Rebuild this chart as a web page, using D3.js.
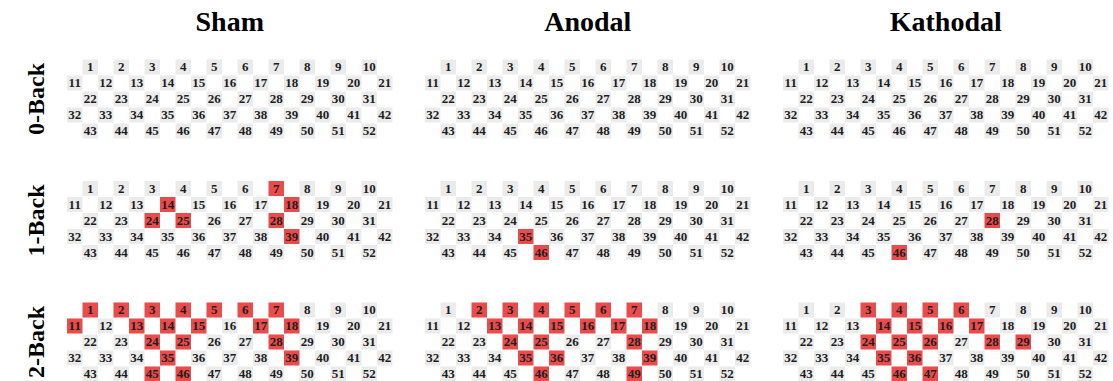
<!DOCTYPE html>
<html>
<head>
<meta charset="utf-8">
<script src="https://cdn.jsdelivr.net/npm/d3@7"></script>
<style>
  html, body { margin: 0; padding: 0; background: #fff; }
  svg { display: block; }
  text { font-family: "Liberation Serif", "Times New Roman", serif; font-weight: bold; }
</style>
</head>
<body>
<svg id="chart" width="1113" height="381"></svg>
<script>
// Stimulation conditions (columns) and n-back task levels (rows)
const conditions = ["Sham", "Anodal", "Kathodal"];
const tasks = ["0-Back", "1-Back", "2-Back"];

// 52-channel probe layout: channel numbers in each of the five probe rows
const probeRows = [
  [1, 2, 3, 4, 5, 6, 7, 8, 9, 10],
  [11, 12, 13, 14, 15, 16, 17, 18, 19, 20, 21],
  [22, 23, 24, 25, 26, 27, 28, 29, 30, 31],
  [32, 33, 34, 35, 36, 37, 38, 39, 40, 41, 42],
  [43, 44, 45, 46, 47, 48, 49, 50, 51, 52]
];

// Significantly activated channels for each condition and task
const sham0 = [];
const anodal0 = [];
const kathodal0 = [];
const sham1 = [7, 14, 18, 24, 25, 28, 39];
const anodal1 = [35, 46];
const kathodal1 = [28, 46];
const sham2 = [1, 2, 3, 4, 5, 6, 7, 11, 13, 14, 15, 17, 18, 24, 25, 28, 35, 39, 45, 46];
const anodal2 = [2, 3, 4, 5, 6, 7, 13, 14, 15, 16, 17, 18, 24, 25, 28, 35, 36, 39, 46, 49];
const kathodal2 = [3, 4, 5, 6, 14, 15, 16, 17, 24, 25, 26, 28, 29, 35, 36, 46, 47];

const active = {
  "0-Back": { Sham: sham0, Anodal: anodal0, Kathodal: kathodal0 },
  "1-Back": { Sham: sham1, Anodal: anodal1, Kathodal: kathodal1 },
  "2-Back": { Sham: sham2, Anodal: anodal2, Kathodal: kathodal2 }
};

const svg = d3.select("#chart");

const colPitch = 15.5, rowPitch = 16;
const nCols = 21, nRows = 5;
const panelW = nCols * colPitch, panelH = nRows * rowPitch;

// Panel placement
const px = d3.scaleOrdinal().domain(conditions).range([67, 425, 783]);
const py = d3.scaleOrdinal().domain(tasks).range([59, 180.5, 302]);

// Cell grid within a panel
const cx = d3.scaleBand().domain(d3.range(nCols)).range([0, panelW]).padding(0);
const cy = d3.scaleBand().domain(d3.range(nRows)).range([0, panelH]).paddingInner(0.06).paddingOuter(0.03);

// Channel cells: rows of 10 sit on odd columns, rows of 11 on even columns
const channels = [];
probeRows.forEach((row, r) => {
  const offset = row.length === 10 ? 1 : 0;
  row.forEach((ch, i) => channels.push({ ch, r, c: offset + 2 * i }));
});

// Column headers
svg.selectAll("text.cond")
  .data(conditions)
  .join("text")
  .attr("class", "cond")
  .attr("x", d => px(d) + panelW / 2)
  .attr("y", 31)
  .attr("text-anchor", "middle")
  .attr("font-size", 28)
  .attr("fill", "#000")
  .text(d => d);

// Row headers
svg.selectAll("text.task")
  .data(tasks)
  .join("text")
  .attr("class", "task")
  .attr("transform", d => `translate(44,${py(d) + panelH / 2}) rotate(-90)`)
  .attr("text-anchor", "middle")
  .attr("font-size", 24)
  .attr("fill", "#000")
  .text(d => d);

const red = "#ea4b4b", grey = "#ebebeb";

tasks.forEach(t => {
  conditions.forEach(c => {
    const hits = new Set(active[t][c]);
    const g = svg.append("g")
      .attr("transform", `translate(${px(c)},${py(t)})`);

    const cell = g.selectAll("g.cell")
      .data(channels)
      .join("g")
      .attr("class", "cell")
      .attr("transform", d => `translate(${cx(d.c)},${cy(d.r)})`);

    cell.append("rect")
      .attr("width", cx.bandwidth())
      .attr("height", cy.bandwidth())
      .attr("fill", d => hits.has(d.ch) ? red : grey);

    cell.append("text")
      .attr("x", cx.bandwidth() / 2)
      .attr("y", cy.bandwidth() / 2 + 4.5)
      .attr("text-anchor", "middle")
      .attr("font-size", 13)
      .attr("fill", "#1e1e1e")
      .text(d => d.ch);
  });
});
</script>
</body>
</html>
